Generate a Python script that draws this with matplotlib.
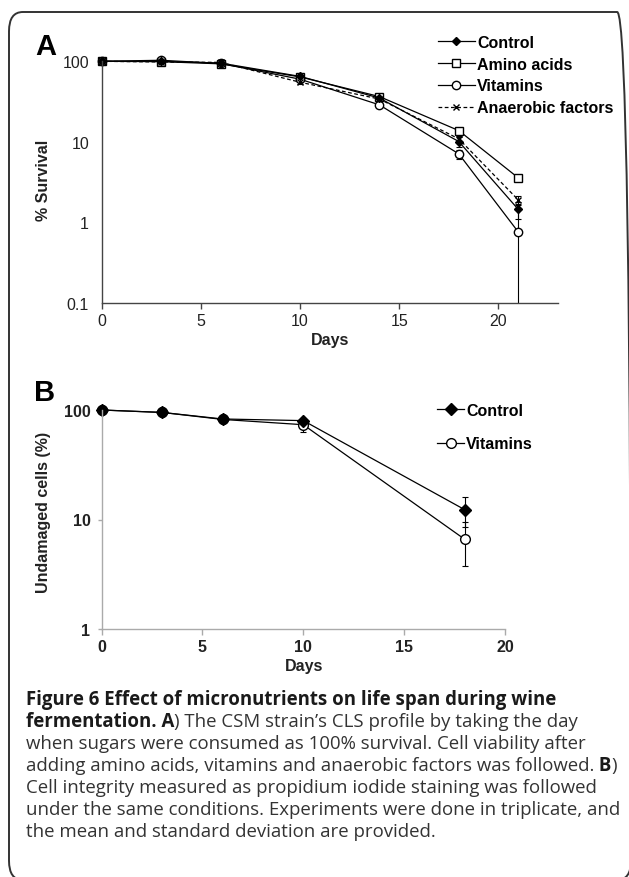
import numpy as np
import matplotlib
matplotlib.use("Agg")
import matplotlib.pyplot as plt
from matplotlib.patches import FancyBboxPatch
from matplotlib.lines import Line2D

plt.rcParams['font.family'] = ['Liberation Sans', 'DejaVu Sans']

# panel A: % survival
days_a = [0, 3, 6, 10, 14, 18, 21]
control_a = [100, 100, 95, 65, 35, 10.1, 1.45]
control_a_sd = [3, 3, 3, 4, 2, 1.5, 0.35]
amino_a = [100, 99, 93, 64, 36.5, 13.8, 3.57]
amino_a_sd = [2, 2, 2, 3, 2, 1.0, 0.2]
vitamins_a = [100, 103, 94, 60, 28.8, 7.1, 0.76]
vitamins_a_sd = [3, 3, 3, 3, 2, 0.9, 0.9]
anaerobic_a = [100, 98, 97, 55, 34, 10.9, 1.9]
anaerobic_a_sd = [3, 3, 3, 3, 2, 1.0, 0.2]

# panel B: undamaged cells (%)
days_b = [0, 3, 6, 10, 18]
control_b = [100, 95, 82.8, 80, 12.3]
control_b_sd = [2, 3, 3, 3, 3.8]
vitamins_b = [100, 95, 82, 73.4, 6.6]
vitamins_b_sd = [2, 3, 3, 10, 2.8]

W, H = 629, 878
fig = plt.figure(figsize=(W / 100, H / 100), dpi=100)
FS = 11.5


def px(x, y):
    return x / W, 1 - y / H


def add_axes(left, top, right, bottom):
    return fig.add_axes([left / W, 1 - bottom / H, (right - left) / W, (bottom - top) / H])


# rounded frame around the figure
frame = FancyBboxPatch(px(9, 881), (631 - 9) / W, (881 - 13) / H,
                       boxstyle="round,pad=0,rounding_size=0.022",
                       transform=fig.transFigure, fill=False,
                       edgecolor='#333333', linewidth=1.4)
fig.patches.append(frame)

# ---- panel A
axA = add_axes(101.6, 62.3, 558, 304)
ek = dict(color='black', linewidth=0.9, capsize=2.5, elinewidth=0.8, capthick=0.8)
styles_a = {
    'Control': dict(marker='D', markersize=4, markerfacecolor='black', linestyle='-'),
    'Amino acids': dict(marker='s', markersize=6, markerfacecolor='white', linestyle='-'),
    'Vitamins': dict(marker='o', markersize=6, markerfacecolor='white', linestyle='-'),
    'Anaerobic factors': dict(marker='x', markersize=5, markerfacecolor='black', linestyle='--'),
}
series_a = [('Amino acids', amino_a, amino_a_sd), ('Vitamins', vitamins_a, vitamins_a_sd),
            ('Anaerobic factors', anaerobic_a, anaerobic_a_sd), ('Control', control_a, control_a_sd)]
for name, vals, sd in series_a:
    st = dict(styles_a[name])
    ls = st.pop('linestyle')
    cont = axA.errorbar(days_a, vals, yerr=sd, markeredgecolor='black', linestyle=ls, **st, **ek)
    cont[0].set_clip_on(False)
    if ls == '--':
        cont[0].set_dashes((3, 2))
axA.set_yscale('log', nonpositive='clip')
axA.set_ylim(0.1, 100)
axA.set_xlim(0, 23)
axA.set_xticks([0, 5, 10, 15, 20])
axA.set_yticks([0.1, 1, 10, 100])
axA.set_yticklabels(['0.1', '1', '10', '100'])
axA.yaxis.set_minor_locator(matplotlib.ticker.NullLocator())
for s in ['top', 'right']:
    axA.spines[s].set_visible(False)
for s in ['left', 'bottom']:
    axA.spines[s].set_color('#444444')
    axA.spines[s].set_linewidth(1.0)
axA.tick_params(axis='both', labelsize=FS, colors='#444444', labelcolor='#222222',
                length=4, width=1.0, pad=3)
axA.tick_params(axis='y', length=0, pad=9)

handles_a = []
for name in ['Control', 'Amino acids', 'Vitamins', 'Anaerobic factors']:
    st = dict(styles_a[name])
    ls = st.pop('linestyle')
    ln = Line2D([], [], color='black', linewidth=0.9, markeredgecolor='black', linestyle=ls, **st)
    if ls == '--':
        ln.set_dashes((3, 2))
    handles_a.append(ln)
legA = fig.legend(handles_a, ['Control', 'Amino acids', 'Vitamins', 'Anaerobic factors'],
                  loc='upper left', bbox_to_anchor=px(438, 36), frameon=False, handlelength=2.3,
                  handletextpad=0.15, labelspacing=0.42, borderpad=0, borderaxespad=0,
                  prop={'weight': 'bold', 'size': FS})

# ---- panel B
axB = add_axes(101.6, 411, 505, 630)
vb = axB.errorbar(days_b, vitamins_b, yerr=vitamins_b_sd, marker='o', markersize=7,
                  markerfacecolor='white', markeredgecolor='black', **ek)
cb = axB.errorbar(days_b, control_b, yerr=control_b_sd, marker='D', markersize=6,
                  markerfacecolor='black', markeredgecolor='black', **ek)
vb[0].set_clip_on(False)
cb[0].set_clip_on(False)
axB.plot(days_b[:3], control_b[:3], 'o', color='black', markersize=7, clip_on=False)
axB.set_yscale('log')
axB.set_ylim(1, 100)
axB.set_xlim(0, 20)
axB.set_xticks([0, 5, 10, 15, 20])
axB.set_yticks([1, 10, 100])
axB.set_yticklabels(['1', '10', '100'])
axB.yaxis.set_minor_locator(matplotlib.ticker.NullLocator())
for s in ['top', 'right']:
    axB.spines[s].set_visible(False)
for s in ['left', 'bottom']:
    axB.spines[s].set_color('#aaaaaa')
    axB.spines[s].set_linewidth(1.0)
axB.tick_params(axis='both', labelsize=FS, colors='#aaaaaa', labelcolor='#222222',
                length=4, width=1.0, pad=3)
axB.tick_params(axis='y', length=3, pad=5)
for t in axB.get_xticklabels() + axB.get_yticklabels():
    t.set_fontweight('bold')

handles_b = [Line2D([], [], color='black', linewidth=0.9, marker='D', markersize=6,
                    markerfacecolor='black', markeredgecolor='black'),
             Line2D([], [], color='black', linewidth=0.9, marker='o', markersize=7,
                    markerfacecolor='white', markeredgecolor='black')]
legB = fig.legend(handles_b, ['Control', 'Vitamins'], loc='upper left',
                  bbox_to_anchor=px(437, 404), frameon=False, handlelength=1.7,
                  handletextpad=0.12, labelspacing=1.15, borderpad=0, borderaxespad=0,
                  prop={'weight': 'bold', 'size': FS})

# labels
fig.text(*px(46, 47), 'A', fontsize=21, fontweight='bold', ha='center', va='center')
fig.text(*px(45, 393), 'B', fontsize=21, fontweight='bold', ha='center', va='center')
fig.text(*px(44, 180), '% Survival', rotation=90, fontsize=FS, fontweight='bold',
         ha='center', va='center', color='#222222')
fig.text(*px(44, 512), 'Undamaged cells (%)', rotation=90, fontsize=FS, fontweight='bold',
         ha='center', va='center', color='#222222')
fig.text(*px(330, 340), 'Days', fontsize=FS, fontweight='bold', ha='center', va='center',
         color='#222222')
fig.text(*px(304, 666), 'Days', fontsize=FS, fontweight='bold', ha='center', va='center',
         color='#222222')

# caption, drawn piece by piece so bold and normal runs sit on one line
caption = [
    [("Figure 6 Effect of micronutrients on life span during wine", 'bold')],
    [("fermentation. A", 'bold'), (") The CSM strain\u2019s CLS profile by taking the day", 'normal')],
    [("when sugars were consumed as 100% survival. Cell viability after", 'normal')],
    [("adding amino acids, vitamins and anaerobic factors was followed.", 'normal'),
     (" B", 'bold'), (")", 'normal')],
    [("Cell integrity measured as propidium iodide staining was followed", 'normal')],
    [("under the same conditions. Experiments were done in triplicate, and", 'normal')],
    [("the mean and standard deviation are provided.", 'normal')],
]
fig.canvas.draw()
renderer = fig.canvas.get_renderer()
y0, dy = 705, 22
for i, line in enumerate(caption):
    x = 26
    for txt, wt in line:
        t = fig.text(*px(x, y0 + i * dy), txt, fontsize=13.4, fontweight=wt,
                     family=['Open Sans', 'DejaVu Sans'], va='baseline', ha='left',
                     color='#1a1a1a' if wt == 'bold' else '#333333')
        x += t.get_window_extent(renderer).width

fig.savefig('out.png', dpi=100)
